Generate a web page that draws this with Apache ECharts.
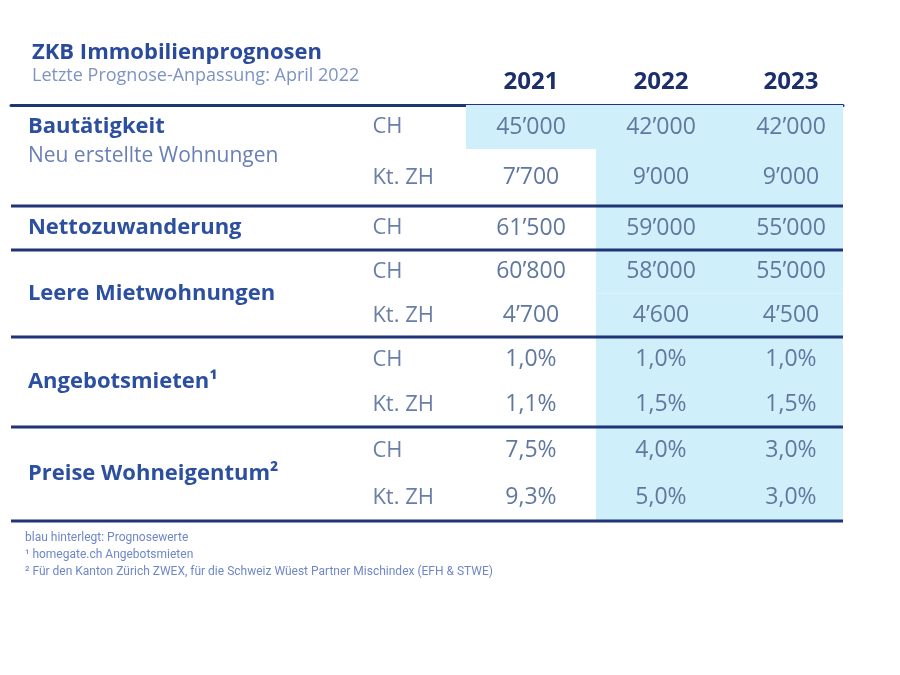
<!DOCTYPE html>
<html>
<head>
<meta charset="utf-8">
<script src="https://cdn.jsdelivr.net/npm/echarts@6/dist/echarts.min.js"></script>
<style>
  html, body { margin: 0; padding: 0; background: #fff; }
  #main { width: 900px; height: 675px; }
</style>
</head>
<body>
<div id="main"></div>
<script>
// table data
var years = ['2021', '2022', '2023']
var groups = ['Bautätigkeit', 'Nettozuwanderung', 'Leere Mietwohnungen', 'Angebotsmieten¹', 'Preise Wohneigentum²']
var groupNotes = ['Neu erstellte Wohnungen', '', '', '', '']
var rowGroup = [0, 0, 1, 2, 2, 3, 3, 4, 4]
var regions = ['CH', 'Kt. ZH', 'CH', 'CH', 'Kt. ZH', 'CH', 'Kt. ZH', 'CH', 'Kt. ZH']
var rowUnit = ['n', 'n', 'n', 'n', 'n', '%', '%', '%', '%']
var values2021 = [45000, 7700, 61500, 60800, 4700, 1.0, 1.1, 7.5, 9.3]
var values2022 = [42000, 9000, 59000, 58000, 4600, 1.0, 1.5, 4.0, 5.0]
var values2023 = [42000, 9000, 55000, 55000, 4500, 1.0, 1.5, 3.0, 3.0]
// first year index that is a forecast (blue background)
var forecastFrom = [0, 1, 1, 1, 1, 1, 1, 1, 1]
var footnotes = [
  'blau hinterlegt: Prognosewerte',
  '¹ homegate.ch Angebotsmieten',
  '² Für den Kanton Zürich ZWEX, für die Schweiz Wüest Partner Mischindex (EFH & STWE)'
]

var yearValues = [values2021, values2022, values2023]

// layout: relative row heights and column anchors (one x unit = one year column)
var ROW_HEIGHTS = [44, 57, 44, 43.5, 43.5, 45, 45, 47, 47]
var LABEL_X = 0.13
var REGION_X = 2.78
var FIRST_YEAR_X = 4
var X_MAX = 6.4

var FONT = '"Open Sans", "Noto Sans", sans-serif'
var NAVY = '#1f3577'
var SHADE = '#cfeffa'

function fmt(v, unit) {
  if (unit === '%') return v.toFixed(1).replace('.', ',') + '%'
  return String(v).replace(/\B(?=(\d{3})+(?!\d))/g, '’')
}

// row top / bottom / center on the y axis
var rowTop = []
var rowBottom = []
var acc = 0
ROW_HEIGHTS.forEach(function (h) {
  rowTop.push(acc)
  acc += h
  rowBottom.push(acc)
})
var Y_MAX = acc
var rowMid = rowTop.map(function (t, i) { return (t + rowBottom[i]) / 2 })

var shadeData = []
var valueData = []
regions.forEach(function (r, i) {
  years.forEach(function (y, j) {
    if (j >= forecastFrom[i]) shadeData.push([FIRST_YEAR_X + j, rowTop[i], rowBottom[i]])
    valueData.push([FIRST_YEAR_X + j, rowMid[i], fmt(yearValues[j][i], rowUnit[i])])
  })
})

// last row of each group gets a rule below it
var ruleData = []
rowGroup.forEach(function (g, i) {
  if (i === rowGroup.length - 1 || rowGroup[i + 1] !== g) ruleData.push([0, rowBottom[i]])
})

var groupData = groups.map(function (g, k) {
  var rows = []
  rowGroup.forEach(function (gg, i) { if (gg === k) rows.push(i) })
  var first = rows[0]
  var last = rows[rows.length - 1]
  var y = groupNotes[k] ? rowMid[first] : (rowMid[first] + rowMid[last]) / 2
  return [LABEL_X, y, k]
})

var regionData = regions.map(function (r, i) { return [REGION_X, rowMid[i], r] })

var chartDom = document.getElementById('main')
var myChart = echarts.init(chartDom)

var option = {
  backgroundColor: '#ffffff',
  animation: false,
  title: [
    {
      text: 'ZKB Immobilienprognosen',
      subtext: 'Letzte Prognose-Anpassung: April 2022',
      left: 27,
      top: 37,
      itemGap: 3,
      textStyle: { fontFamily: FONT, fontSize: 22, fontWeight: 'bold', color: '#2a4b9b' },
      subtextStyle: { fontFamily: FONT, fontSize: 18, color: '#7d93c3' }
    },
    {
      text: footnotes.join('\n'),
      left: 20,
      top: 524,
      textStyle: { fontFamily: 'Roboto, sans-serif', fontSize: 12, fontWeight: 'normal', color: '#6f87c9', lineHeight: 17 }
    }
  ],
  grid: { left: 11, right: 57, top: 105, bottom: 154 },
  xAxis: {
    type: 'value',
    position: 'top',
    min: 0,
    max: X_MAX,
    interval: 1,
    splitLine: { show: false },
    axisTick: { show: false },
    axisLine: { show: true, lineStyle: { color: NAVY, width: 3 } },
    axisLabel: {
      margin: 11,
      fontFamily: FONT,
      fontSize: 24,
      fontWeight: 'bold',
      color: '#1c2f6b',
      showMaxLabel: false,
      formatter: function (v) {
        var j = v - FIRST_YEAR_X
        return (Number.isInteger(j) && j >= 0 && j < years.length) ? years[j] : ''
      }
    }
  },
  yAxis: {
    type: 'value',
    min: 0,
    max: Y_MAX,
    inverse: true,
    show: false,
    splitLine: { show: false }
  },
  series: [
    {
      // blue forecast background
      type: 'custom',
      z: 1,
      data: shadeData,
      renderItem: function (params, api) {
        var x = api.value(0)
        var a = api.coord([x - 0.5, api.value(1)])
        var b = api.coord([Math.min(x + 0.5, X_MAX), api.value(2)])
        return {
          type: 'rect',
          shape: { x: a[0], y: a[1], width: b[0] - a[0], height: b[1] - a[1] },
          style: { fill: SHADE }
        }
      }
    },
    {
      // group rules
      type: 'custom',
      z: 3,
      data: ruleData,
      renderItem: function (params, api) {
        var a = api.coord([0, api.value(1)])
        var b = api.coord([X_MAX, api.value(1)])
        return {
          type: 'line',
          shape: { x1: a[0], y1: a[1], x2: b[0], y2: b[1] },
          style: { stroke: NAVY, lineWidth: 3 }
        }
      }
    },
    {
      // group labels
      type: 'custom',
      z: 4,
      data: groupData,
      renderItem: function (params, api) {
        var k = api.value(2)
        var c = api.coord([api.value(0), api.value(1)])
        var note = groupNotes[k]
        var children = [{
          type: 'text',
          x: c[0],
          y: c[1],
          style: { text: groups[k], fill: '#2c4f9f', fontFamily: FONT, fontSize: 22, fontWeight: 'bold', align: 'left', verticalAlign: 'middle' }
        }]
        if (note) {
          children.push({
            type: 'text',
            x: c[0],
            y: c[1] + 29,
            style: { text: note, fill: '#6a80b6', fontFamily: FONT, fontSize: 21, align: 'left', verticalAlign: 'middle' }
          })
        }
        return { type: 'group', children: children }
      }
    },
    {
      // CH / Kt. ZH
      type: 'custom',
      z: 4,
      data: regionData,
      renderItem: function (params, api) {
        var c = api.coord([api.value(0), api.value(1)])
        return {
          type: 'text',
          x: c[0],
          y: c[1],
          style: { text: regionData[params.dataIndex][2], fill: '#6a7fa8', fontFamily: FONT, fontSize: 22, align: 'left', verticalAlign: 'middle' }
        }
      }
    },
    {
      // values
      type: 'custom',
      z: 4,
      data: valueData,
      renderItem: function (params, api) {
        var c = api.coord([api.value(0), api.value(1)])
        return {
          type: 'text',
          x: c[0],
          y: c[1],
          style: { text: valueData[params.dataIndex][2], fill: '#60779f', fontFamily: FONT, fontSize: 23, align: 'center', verticalAlign: 'middle' }
        }
      }
    }
  ]
}

option && myChart.setOption(option)
</script>
</body>
</html>
